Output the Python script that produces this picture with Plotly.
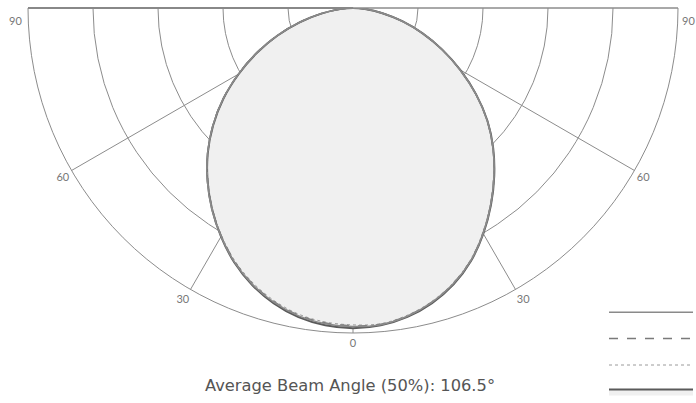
import plotly.graph_objects as go

# Angles (degrees from nadir) and relative intensities (radial axis 0..1000)
ANGLES = [0, 5, 10, 15, 20, 25, 30, 35, 40, 45, 50, 55, 60, 65, 70, 75, 80, 85, 90]

# right half (positive side) / left half (negative side) for four planes
C0_RIGHT = [985, 980, 965, 940, 905, 859, 802, 740, 676, 610, 540, 462, 381, 303, 228, 157, 92, 37, 0]
C0_LEFT = [985, 980, 966, 941, 907, 864, 812, 756, 696, 632, 562, 487, 406, 326, 247, 170, 99, 40, 0]

C90_RIGHT = [982, 977, 962, 937, 902, 857, 800, 739, 675, 609, 539, 461, 380, 302, 228, 156, 92, 37, 0]
C90_LEFT = [978, 973, 960, 936, 903, 861, 810, 755, 695, 632, 563, 488, 408, 328, 248, 171, 100, 41, 0]

C45_RIGHT = [980, 975, 960, 935, 900, 855, 798, 737, 673, 608, 538, 460, 379, 302, 227, 156, 92, 36, 0]
C45_LEFT = [975, 970, 957, 933, 900, 859, 809, 754, 694, 631, 562, 488, 408, 328, 249, 171, 100, 41, 0]

C135_RIGHT = [983, 978, 963, 938, 903, 858, 801, 739, 675, 609, 539, 461, 380, 302, 228, 157, 92, 37, 0]
C135_LEFT = [980, 975, 962, 938, 905, 863, 812, 757, 697, 633, 563, 488, 407, 327, 248, 170, 99, 40, 0]

LEGEND_LABELS = [" ", "  ", "   ", "    "]  # legend shows line samples only
RADIAL_TICKS = [200, 400, 600, 800, 1000]
ANGLE_TICKS = [270, 300, 330, 360, 390, 420, 450]
ANGLE_LABELS = ["", "60", "30", "0", "30", "60", ""]
SIDE_LABEL = "90"
CAPTION = "Average Beam Angle (50%): 106.5°"


def full(left, right):
    theta = [360 - a for a in reversed(ANGLES)] + [360 + a for a in ANGLES[1:]]
    r = list(reversed(left)) + right[1:]
    return theta, r


# drawing order: filled plane first (underneath); legend order reversed
series = [
    (LEGEND_LABELS[3], C0_LEFT, C0_RIGHT, dict(color="#5a5a5a", width=2, dash="solid"), True),
    (LEGEND_LABELS[2], C45_LEFT, C45_RIGHT, dict(color="#9a9a9a", width=1, dash="dot"), False),
    (LEGEND_LABELS[1], C90_LEFT, C90_RIGHT, dict(color="#7a7a7a", width=1.5, dash="dash"), False),
    (LEGEND_LABELS[0], C135_LEFT, C135_RIGHT, dict(color="#8a8a8a", width=1.5, dash="solid"), False),
]

fig = go.Figure()
for name, left, right, line, filled in series:
    th, rr = full(left, right)
    fig.add_trace(go.Scatterpolar(
        theta=th, r=rr, mode="lines", name=name, line=line,
        fill="toself" if filled else None,
        fillcolor="rgba(240,240,240,1)" if filled else None,
        line_shape="spline",
    ))

fig.update_layout(
    width=696, height=403,
    margin=dict(l=0, r=0, t=0, b=0, autoexpand=False),
    paper_bgcolor="white",
    font=dict(family="Lato, sans-serif", color="#777"),
    polar=dict(
        domain=dict(x=[28 / 696, 678 / 696], y=[1 - 333 / 403, 1 - 8 / 403]),
        sector=[180, 360],
        bgcolor="white",
        angularaxis=dict(
            rotation=270, direction="counterclockwise",
            tickmode="array", tickvals=ANGLE_TICKS, ticktext=ANGLE_LABELS,
            showgrid=True, gridcolor="#8c8c8c", gridwidth=1,
            showline=True, linecolor="#8c8c8c", linewidth=1,
            ticks="", tickfont=dict(size=11, color="#777"),
        ),
        radialaxis=dict(
            range=[0, 1000], tickmode="array", tickvals=RADIAL_TICKS,
            showticklabels=False, ticks="",
            showgrid=True, gridcolor="#8c8c8c", gridwidth=1,
            showline=True, linecolor="#888", linewidth=2,
        ),
    ),
    showlegend=True,
    legend=dict(
        x=604 / 696, y=1 - 294 / 403, xanchor="left", yanchor="top",
        traceorder="reversed",
        font=dict(size=18, color="#777"), itemwidth=84,
        bgcolor="rgba(0,0,0,0)",
    ),
    annotations=[
        dict(text=CAPTION, x=350 / 696, y=1 - 385 / 403, xref="paper", yref="paper",
             xanchor="center", yanchor="middle", showarrow=False,
             font=dict(family="DejaVu Sans, sans-serif", size=16.3, color="#555")),
        dict(text=SIDE_LABEL, x=15 / 696, y=1 - 20 / 403, xref="paper", yref="paper",
             xanchor="center", yanchor="middle", showarrow=False,
             font=dict(family="Lato, sans-serif", size=11, color="#777")),
        dict(text=SIDE_LABEL, x=688 / 696, y=1 - 20 / 403, xref="paper", yref="paper",
             xanchor="center", yanchor="middle", showarrow=False,
             font=dict(family="Lato, sans-serif", size=11, color="#777")),
    ],
)

fig.write_html("out.html", config={"displayModeBar": False},
               post_script="document.body.style.margin='0';")
